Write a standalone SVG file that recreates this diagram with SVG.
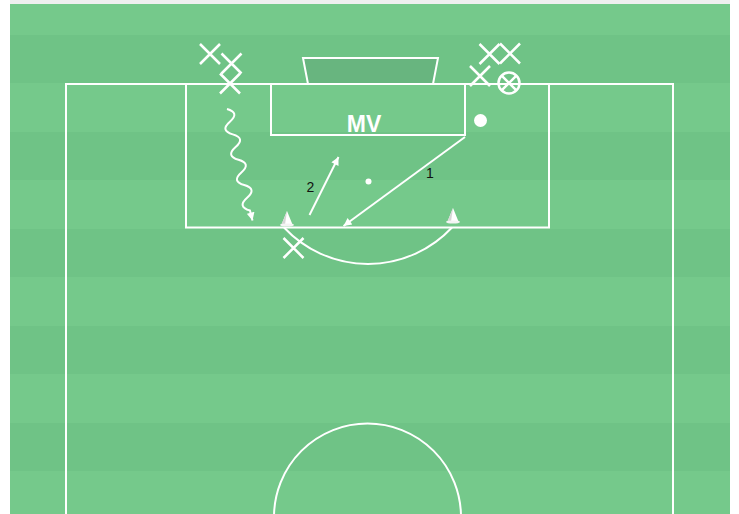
<svg xmlns="http://www.w3.org/2000/svg" width="739" height="514" viewBox="0 0 739 514">
<style>
.ln{fill:none;stroke:#fff;stroke-width:2}
.x{stroke:#fff;stroke-width:2.5;fill:none}
.lbl{font-family:"Liberation Sans",Arial,sans-serif;font-size:14px;fill:#111;text-anchor:middle}
.arrow{fill:none;stroke:#fff;stroke-width:2}
</style>
<defs>
<marker id="ah" viewBox="0 0 10 10" refX="10" refY="5" markerWidth="10" markerHeight="8" markerUnits="userSpaceOnUse" orient="auto">
<path d="M0,0 L10,5 L0,10 z" fill="#fff"/>
</marker>
<g id="xmark"><path class="x" d="M-10,-10 L10,10 M10,-10 L-10,10"/></g>
</defs>
<rect x="0" y="0" width="739" height="514" fill="#fff"/>
<rect x="10" y="0" width="720" height="4" fill="#efefef"/>
<g id="pitch">
<rect x="10" y="4" width="720" height="510" fill="#75c98b"/>
<g fill="#6fc386">
<rect x="10" y="35" width="720" height="48"/>
<rect x="10" y="132" width="720" height="48"/>
<rect x="10" y="229" width="720" height="48"/>
<rect x="10" y="326" width="720" height="48"/>
<rect x="10" y="423" width="720" height="48"/>
</g>
<polygon points="303,58 438,58 433,84 308,84" fill="#68b57f" stroke="#fff" stroke-width="2"/>
<path class="ln" d="M66,514 V84 H673 V514"/>
<rect class="ln" x="186" y="84" width="363" height="143.5"/>
<rect class="ln" x="271" y="84" width="194" height="51"/>
<path class="ln" d="M284,227.5 A115,115 0 0 0 452,227.5"/>
<circle class="ln" cx="367.5" cy="517" r="93.5"/>
<circle cx="368.5" cy="181.5" r="3" fill="#fff"/>
<text x="364" y="131.5" font-family="Liberation Sans,Arial,sans-serif" font-weight="bold" font-size="23" fill="#fff" text-anchor="middle">MV</text>
</g>
<g id="def1"><use href="#xmark" x="210" y="54"/></g>
<g id="def2"><use href="#xmark" x="231.5" y="63.5"/></g>
<g id="def3"><use href="#xmark" x="230" y="83.5"/></g>
<g id="def4"><use href="#xmark" x="489.5" y="54"/></g>
<g id="def5"><use href="#xmark" x="510" y="53.5"/></g>
<g id="def6"><use href="#xmark" x="480" y="76"/></g>
<g id="def7"><use href="#xmark" x="293.5" y="248"/></g>
<g id="keeper">
<circle cx="509" cy="83" r="10.5" fill="none" stroke="#fff" stroke-width="2.5"/>
<path class="x" d="M501.6,75.6 L516.4,90.4 M516.4,75.6 L501.6,90.4" stroke-width="2"/>
</g>
<g id="ball"><circle cx="480.5" cy="120.5" r="6.5" fill="#fff"/></g>
<g id="cone1">
<polygon points="287,211 281.5,224.5 292.5,224.5" fill="#fff"/>
<polygon points="287,211 281.5,224.5 285,224.5" fill="#d6d6d6"/>
<ellipse cx="287" cy="225" rx="7" ry="1.6" fill="#f4f4f4"/>
</g>
<g id="cone2">
<polygon points="453,208 447.5,221.5 458.5,221.5" fill="#fff"/>
<polygon points="453,208 447.5,221.5 451,221.5" fill="#d6d6d6"/>
<ellipse cx="453" cy="222" rx="7" ry="1.6" fill="#f4f4f4"/>
</g>
<g id="connectors">
<path class="arrow" marker-end="url(#ah)" d="M227,109 Q240.1,112.7 229.87,121.68 T232.74,134.36 T235.61,147.04 T238.48,159.72 T241.35,172.4 T244.22,185.08 T247.09,197.76 T249.96,210.44 L252.5,220.5"/>
<line class="arrow" x1="465" y1="137" x2="343.5" y2="226" marker-end="url(#ah)"/>
<line class="arrow" x1="309.5" y1="215" x2="338.5" y2="157" marker-end="url(#ah)"/>
<text class="lbl" x="430" y="178">1</text>
<text class="lbl" x="310.5" y="192">2</text>
</g>
</svg>
